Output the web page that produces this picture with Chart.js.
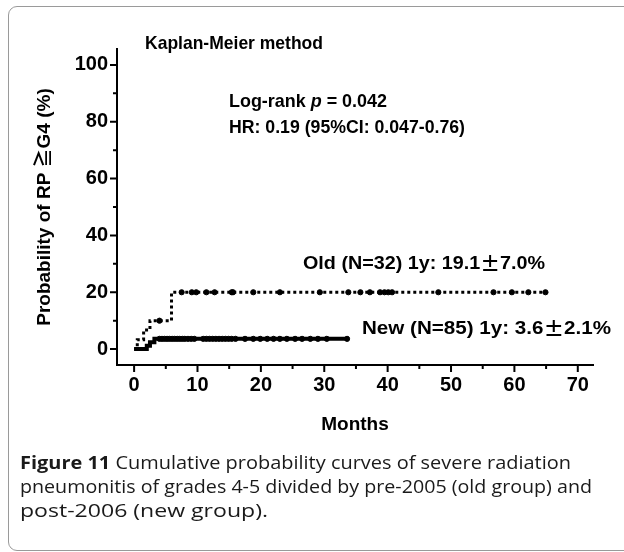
<!DOCTYPE html>
<html><head><meta charset="utf-8">
<script src="https://cdn.jsdelivr.net/npm/chart.js@4/dist/chart.umd.min.js"></script>
<style>
html,body{margin:0;padding:0;background:#fff;}
#wrap{position:relative;width:624px;height:552px;overflow:hidden;}
#frame{position:absolute;left:8px;top:6px;width:640px;height:545px;border:1px solid #9a9a9a;border-radius:9px;box-sizing:border-box;}
#c{position:absolute;left:0;top:0;}
#cap{position:absolute;left:20px;top:450px;font-family:"Open Sans","Noto Sans",sans-serif;font-size:18px;line-height:24px;color:#1a1a1a;white-space:nowrap;}
#cap span{display:block;transform-origin:0 50%;}
#cap b{font-weight:700;}
</style></head>
<body><div id="wrap"><div id="frame"></div><canvas id="c" width="624" height="552"></canvas>
<div id="cap"><span data-w="551"><b>Figure 11</b> Cumulative probability curves of severe radiation</span><span data-w="572">pneumonitis of grades 4-5 divided by pre-2005 (old group) and</span><span data-w="248">post-2006 (new group).</span></div></div>
<script>
// ---- data ----
const oldTimes = [0, 0.5, 1.5, 2.5, 5.9, 65];
const oldProb  = [0, 3.3, 6.7, 10, 20, 20];
const oldCensorTimes = [4.0, 7.5, 9.1, 9.8, 11.4, 12.7, 15.4, 15.6, 18.8, 23.0, 29.3, 33.8, 35.7, 37.2, 38.8, 39.5, 40.1, 40.7, 48.0, 56.7, 59.6, 62.2, 64.9];
const oldCensorProb  = [10, 20, 20, 20, 20, 20, 20, 20, 20, 20, 20, 20, 20, 20, 20, 20, 20, 20, 20, 20, 20, 20, 20];
const newTimes = [0, 2.0, 2.5, 3.2, 33.8];
const newProb  = [0, 1.2, 2.4, 3.6, 3.6];
const newCensorTimes = [4.0, 4.4, 4.8, 5.2, 5.6, 6.0, 6.4, 6.8, 7.2, 7.6, 8.0, 8.5, 9.0, 9.5, 10.9, 11.4, 11.9, 12.4, 12.9, 13.4, 13.9, 14.4, 14.9, 15.4, 16.0, 17.5, 18.8, 19.9, 21.0, 22.0, 23.0, 24.1, 25.4, 26.5, 27.8, 29.0, 30.4, 33.6];
const xTicks = [0, 10, 20, 30, 40, 50, 60, 70];
const xMinorTicks = [5, 15, 25, 35, 45, 55, 65];
const yTicks = [0, 20, 40, 60, 80, 100];
const yMinorTicks = [10, 30, 50, 70, 90];

const pts = (xs, ys) => xs.map((x, i) => ({x: x, y: ys[i]}));

// fit caption lines to the reference widths
document.querySelectorAll('#cap span').forEach(s => {
  const r = document.createRange(); r.selectNodeContents(s);
  const tw = r.getBoundingClientRect().width;
  s.style.transform = 'scaleX(' + (parseFloat(s.dataset.w) / tw) + ')';
});

const FONT = "'Liberation Sans', Arial, 'Noto Sans CJK JP', sans-serif";
const CJK = "'Noto Sans CJK JP', sans-serif";

const tickPlugin = {
  id: 'ticksAndText',
  afterDraw(chart) {
    const ctx = chart.ctx;
    const xs = chart.scales.x, ys = chart.scales.y;
    const ax = ys.right, ay = xs.top;
    ctx.save();
    ctx.strokeStyle = '#000';
    ctx.lineWidth = 2;
    ctx.beginPath();
    yTicks.forEach(v => { const p = ys.getPixelForValue(v); ctx.moveTo(ax - 7, p); ctx.lineTo(ax, p); });
    yMinorTicks.forEach(v => { const p = ys.getPixelForValue(v); ctx.moveTo(ax - 4, p); ctx.lineTo(ax, p); });
    xTicks.forEach(v => { const p = xs.getPixelForValue(v); ctx.moveTo(p, ay); ctx.lineTo(p, ay + 7); });
    xMinorTicks.forEach(v => { const p = xs.getPixelForValue(v); ctx.moveTo(p, ay); ctx.lineTo(p, ay + 4); });
    ctx.stroke();

    ctx.fillStyle = '#000';
    ctx.textBaseline = 'middle';
    ctx.textAlign = 'left';
    const f = 'bold 19px ' + FONT;
    const fc = 'bold 19px ' + CJK;
    // draw text pieces scaled horizontally to fit the reference width
    function seg(parts, x, y, targetW) {
      let total = 0;
      parts.forEach(p => { ctx.font = p[1]; total += ctx.measureText(p[0]).width; });
      const k = targetW / total;
      ctx.save();
      ctx.translate(x, y);
      ctx.scale(k, 1);
      let cx = 0;
      parts.forEach(p => {
        ctx.font = p[1];
        ctx.fillText(p[0], cx, 0);
        cx += ctx.measureText(p[0]).width;
      });
      ctx.restore();
    }
    seg([['Kaplan-Meier method', f]], 145, 44, 178);
    seg([['Log-rank ', f], ['p', 'italic ' + f], [' = 0.042', f]], 229, 102, 158);
    seg([['HR: 0.19 (95%CI: 0.047-0.76)', f]], 229, 128, 236);
    seg([['Old (N=32) 1y: 19.1', f], ['±', fc], ['7.0%', f]], 303, 264, 242);
    seg([['New (N=85) 1y: 3.6', f], ['±', fc], ['2.1%', f]], 362, 329, 249);
    ctx.restore();
  }
};

new Chart(document.getElementById('c'), {
  type: 'scatter',
  data: {
    datasets: [
      { label: 'Old', data: pts(oldTimes, oldProb), showLine: true, stepped: true,
        borderColor: '#000', borderWidth: 3, borderDash: [3, 3], pointRadius: 0, order: 2 },
      { label: 'Old censored', data: pts(oldCensorTimes, oldCensorProb), showLine: false,
        pointStyle: 'circle', pointRadius: 2.6, backgroundColor: '#000', borderColor: '#000', borderWidth: 1 },
      { label: 'New', data: pts(newTimes, newProb), showLine: true, stepped: true,
        borderColor: '#000', borderWidth: 4, pointRadius: 0, order: 2 },
      { label: 'New censored', data: newCensorTimes.map(t => ({x: t, y: newProb[newProb.length - 1]})), showLine: false,
        pointStyle: 'circle', pointRadius: 2.6, backgroundColor: '#000', borderColor: '#000', borderWidth: 1 }
    ]
  },
  options: {
    responsive: false,
    animation: false,
    devicePixelRatio: 1,
    layout: { padding: { left: 0, top: 49, right: 31, bottom: 0 } },
    plugins: { legend: { display: false }, tooltip: { enabled: false } },
    scales: {
      x: {
        type: 'linear', min: -2.7, max: 72.4,
        afterBuildTicks: s => { s.ticks = xTicks.map(v => ({value: v})); },
        afterFit: s => { s.height = 552 - 365; },
        grid: { display: false, drawTicks: false },
        border: { display: true, color: '#000', width: 2 },
        ticks: { padding: 8, color: '#000', font: { family: FONT, size: 20, weight: 'bold' }, maxRotation: 0 },
        title: { display: true, text: 'Months', color: '#000', font: { family: FONT, size: 19, weight: 'bold' },
                 padding: { top: 0, bottom: 552 - 365 - 60 - 11 } }
      },
      y: {
        type: 'linear', min: -5.6, max: 105.6,
        afterBuildTicks: s => { s.ticks = yTicks.map(v => ({value: v})); },
        afterFit: s => { s.width = 117; },
        grid: { display: false, drawTicks: false },
        border: { display: true, color: '#000', width: 2 },
        ticks: { padding: 9, color: '#000', font: { family: FONT, size: 20, weight: 'bold' } },
        title: { display: true, text: 'Probability of RP ≧G4 (%)', color: '#000',
                 font: { family: FONT, size: 19, weight: 'bold' }, padding: { top: 33, bottom: 0 } }
      }
    }
  },
  plugins: [tickPlugin]
});
</script></body></html>
